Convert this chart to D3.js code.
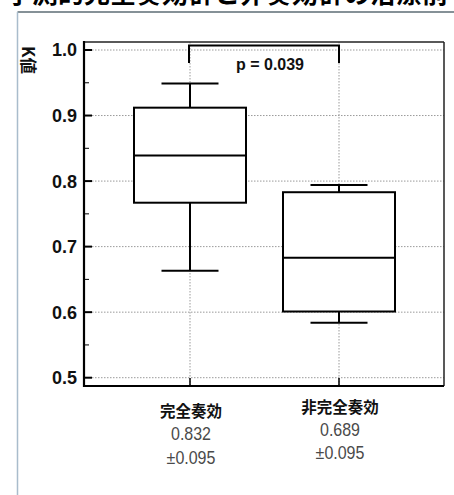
<!DOCTYPE html>
<html>
<head>
<meta charset="utf-8">
<script src="https://cdn.jsdelivr.net/npm/d3@7"></script>
<style>
  body { margin: 0; background: #fff; }
  svg { display: block; }
</style>
</head>
<body>
<svg id="chart" width="454" height="495"></svg>
<script>
'use strict';

// data
var categories = ["完全奏効", "非完全奏効"];
var whiskerLow = [0.663, 0.584];
var q1 = [0.767, 0.601];
var median = [0.839, 0.683];
var q3 = [0.912, 0.783];
var whiskerHigh = [0.949, 0.794];
var meanLabels = ["0.832", "0.689"];
var sdLabels = ["\u00b10.095", "\u00b10.095"];
var yTicks = [0.5, 0.6, 0.7, 0.8, 0.9, 1.0];
var yMinorTicks = [0.55, 0.65, 0.75, 0.85, 0.95];
var pLabel = "p = 0.039";
var titleText = "予測的完全奏効群と非奏効群の治療前";

var svg = d3.select("#chart");

var plotLeft = 84, plotRight = 444, plotTop = 42, plotBottom = 386;

var y = d3.scaleLinear().domain([0.5, 1.0]).range([377.7, 50]);
var x = d3.scalePoint().domain(categories).range([190, 339]);

var boxW = 112, capW = 57;

// clipped title at very top
svg.append("text")
    .attr("x", 227).attr("y", 3)
    .attr("text-anchor", "middle")
    .attr("font-family", "Noto Sans CJK JP")
    .attr("font-size", 26)
    .attr("font-weight", "bold")
    .text(titleText);

// outer frame
svg.append("line")
    .attr("x1", 17.5).attr("x2", 454).attr("y1", 12).attr("y2", 12)
    .attr("stroke", "#5d6d75").attr("stroke-width", 1.5);
svg.append("line")
    .attr("x1", 17.5).attr("x2", 17.5).attr("y1", 12).attr("y2", 495)
    .attr("stroke", "#a9bccc").attr("stroke-width", 1.5);

// gridlines
var grid = svg.append("g")
    .attr("stroke", "#9a9a9a")
    .attr("stroke-width", 1)
    .attr("stroke-dasharray", "1.5,1.5");
grid.selectAll("line.h")
    .data(yTicks)
    .enter().append("line")
    .attr("class", "h")
    .attr("x1", plotLeft + 8).attr("x2", plotRight)
    .attr("y1", function(d) { return y(d); })
    .attr("y2", function(d) { return y(d); });
grid.selectAll("line.v")
    .data(categories)
    .enter().append("line")
    .attr("class", "v")
    .attr("x1", function(d) { return x(d); })
    .attr("x2", function(d) { return x(d); })
    .attr("y1", plotTop).attr("y2", plotBottom);

// plot frame
svg.append("line")
    .attr("x1", plotLeft).attr("x2", plotRight).attr("y1", plotTop).attr("y2", plotTop)
    .attr("stroke", "#222").attr("stroke-width", 1.5);
svg.append("line")
    .attr("x1", plotRight).attr("x2", plotRight).attr("y1", plotTop).attr("y2", plotBottom)
    .attr("stroke", "#222").attr("stroke-width", 1.5);
svg.append("line")
    .attr("x1", plotLeft).attr("x2", plotLeft).attr("y1", plotTop - 1).attr("y2", plotBottom + 1)
    .attr("stroke", "#000").attr("stroke-width", 2.2);
svg.append("line")
    .attr("x1", plotLeft).attr("x2", plotRight).attr("y1", plotBottom).attr("y2", plotBottom)
    .attr("stroke", "#000").attr("stroke-width", 2.2);

// y ticks (inside)
svg.selectAll("line.major")
    .data(yTicks)
    .enter().append("line")
    .attr("class", "major")
    .attr("x1", plotLeft).attr("x2", plotLeft + 8)
    .attr("y1", function(d) { return y(d); })
    .attr("y2", function(d) { return y(d); })
    .attr("stroke", "#000").attr("stroke-width", 2);
svg.selectAll("line.minor")
    .data(yMinorTicks)
    .enter().append("line")
    .attr("class", "minor")
    .attr("x1", plotLeft).attr("x2", plotLeft + 5)
    .attr("y1", function(d) { return y(d); })
    .attr("y2", function(d) { return y(d); })
    .attr("stroke", "#000").attr("stroke-width", 1);
svg.selectAll("text.ytick")
    .data(yTicks)
    .enter().append("text")
    .attr("class", "ytick")
    .attr("x", 77)
    .attr("y", function(d) { return y(d); })
    .attr("dy", "0.36em")
    .attr("text-anchor", "end")
    .attr("font-family", "Liberation Sans, Arial")
    .attr("font-weight", "bold")
    .attr("font-size", 18)
    .attr("fill", "#111")
    .text(d3.format(".1f"));

// y title, rotated
svg.append("text")
    .attr("transform", "translate(22,60) rotate(90)")
    .attr("text-anchor", "middle")
    .attr("font-family", "Noto Sans CJK JP")
    .attr("font-weight", "bold")
    .attr("font-size", 16.5)
    .attr("fill", "#111")
    .text("K値");

// x ticks at bottom (inside)
svg.selectAll("line.xtick")
    .data(categories)
    .enter().append("line")
    .attr("class", "xtick")
    .attr("x1", function(d) { return x(d); })
    .attr("x2", function(d) { return x(d); })
    .attr("y1", plotBottom).attr("y2", plotBottom - 8)
    .attr("stroke", "#000").attr("stroke-width", 1.5);

// boxes
var boxes = svg.selectAll("g.box")
    .data(categories)
    .enter().append("g")
    .attr("class", "box");

boxes.append("line")
    .attr("x1", function(d) { return x(d); })
    .attr("x2", function(d) { return x(d); })
    .attr("y1", function(d, i) { return y(whiskerHigh[i]); })
    .attr("y2", function(d, i) { return y(whiskerLow[i]); })
    .attr("stroke", "#000").attr("stroke-width", 2);
boxes.append("rect")
    .attr("x", function(d) { return x(d) - boxW / 2; })
    .attr("width", boxW)
    .attr("y", function(d, i) { return y(q3[i]); })
    .attr("height", function(d, i) { return y(q1[i]) - y(q3[i]); })
    .attr("fill", "#fff")
    .attr("stroke", "#000").attr("stroke-width", 2);
boxes.append("line")
    .attr("x1", function(d) { return x(d) - boxW / 2; })
    .attr("x2", function(d) { return x(d) + boxW / 2; })
    .attr("y1", function(d, i) { return y(median[i]); })
    .attr("y2", function(d, i) { return y(median[i]); })
    .attr("stroke", "#000").attr("stroke-width", 2);
boxes.append("line")
    .attr("x1", function(d) { return x(d) - capW / 2; })
    .attr("x2", function(d) { return x(d) + capW / 2; })
    .attr("y1", function(d, i) { return y(whiskerHigh[i]); })
    .attr("y2", function(d, i) { return y(whiskerHigh[i]); })
    .attr("stroke", "#000").attr("stroke-width", 2);
boxes.append("line")
    .attr("x1", function(d) { return x(d) - capW / 2; })
    .attr("x2", function(d) { return x(d) + capW / 2; })
    .attr("y1", function(d, i) { return y(whiskerLow[i]); })
    .attr("y2", function(d, i) { return y(whiskerLow[i]); })
    .attr("stroke", "#000").attr("stroke-width", 2);

// significance bracket
var bx1 = x(categories[0]) - 1, bx2 = x(categories[1]);
svg.append("path")
    .attr("d", "M" + bx1 + ",63 V45.5 H" + bx2 + " V63")
    .attr("fill", "none")
    .attr("stroke", "#000").attr("stroke-width", 2);
svg.append("text")
    .attr("x", 270).attr("y", 70)
    .attr("text-anchor", "middle")
    .attr("font-family", "Liberation Sans, Arial")
    .attr("font-weight", "bold")
    .attr("font-size", 16)
    .attr("fill", "#111")
    .text(pLabel);

// category labels with mean / sd (numbers look a bit stretched in the source)
var labelY = [417, 413];
var meanY = [440, 436];
var sdY = [464, 459];
var labels = svg.selectAll("g.lab")
    .data(categories)
    .enter().append("g")
    .attr("class", "lab");
labels.append("text")
    .attr("x", function(d) { return x(d) + 1; })
    .attr("y", function(d, i) { return labelY[i]; })
    .attr("text-anchor", "middle")
    .attr("font-family", "Noto Sans CJK JP")
    .attr("font-weight", "bold")
    .attr("font-size", 15.5)
    .attr("fill", "#111")
    .text(function(d) { return d; });
labels.append("text")
    .attr("transform", function(d, i) {
        return "translate(" + (x(d) + 1) + "," + meanY[i] + ") scale(1,1.2)";
    })
    .attr("text-anchor", "middle")
    .attr("font-family", "Liberation Sans, Arial")
    .attr("font-size", 16)
    .attr("fill", "#4a4a4a")
    .text(function(d, i) { return meanLabels[i]; });
labels.append("text")
    .attr("transform", function(d, i) {
        return "translate(" + (x(d) + 1) + "," + sdY[i] + ") scale(1,1.2)";
    })
    .attr("text-anchor", "middle")
    .attr("font-family", "Liberation Sans, Arial")
    .attr("font-size", 16)
    .attr("fill", "#4a4a4a")
    .text(function(d, i) { return sdLabels[i]; });
</script>
</body>
</html>
